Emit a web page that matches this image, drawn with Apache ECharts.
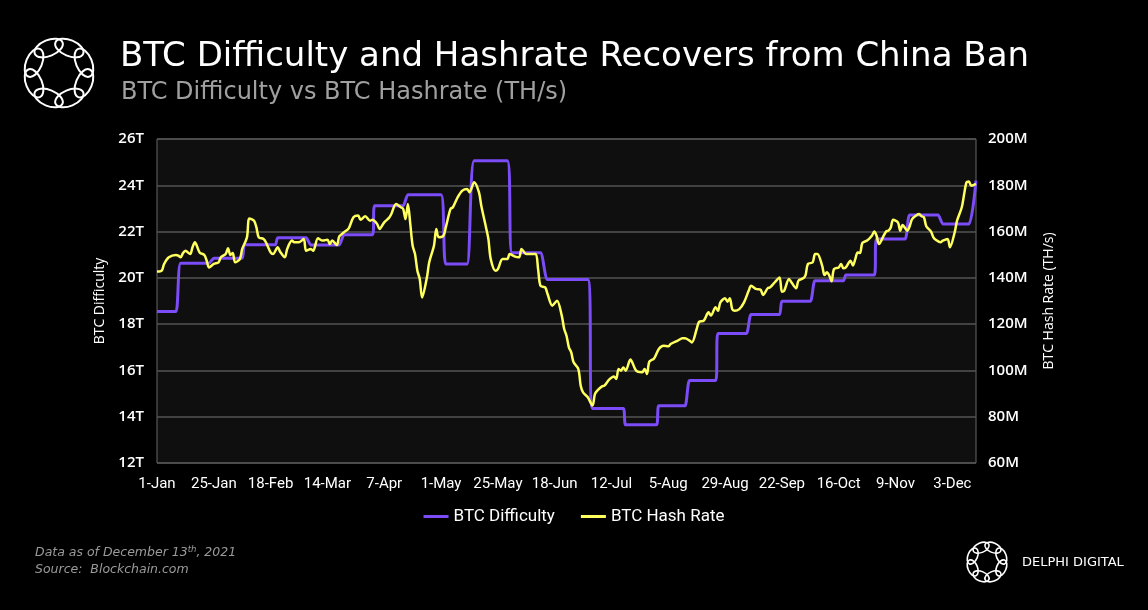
<!DOCTYPE html>
<html>
<head>
<meta charset="utf-8">
<script src="https://cdn.jsdelivr.net/npm/echarts@6/dist/echarts.min.js"></script>
<style>
  html, body { margin: 0; padding: 0; background: #000; }
  #chart { width: 1148px; height: 610px; }
</style>
</head>
<body>
<div id="chart"></div>
<script>
// x labels, one every 24 days starting 1-Jan (day index 0)
const tickLabels = ['1-Jan', '25-Jan', '18-Feb', '14-Mar', '7-Apr', '1-May', '25-May', '18-Jun',
    '12-Jul', '5-Aug', '29-Aug', '22-Sep', '16-Oct', '9-Nov', '3-Dec'];

// BTC difficulty (T), [day index, value] at each adjustment step
const difficulty = [
    [0, 18.55], [8, 18.55], [10, 20.63], [22, 20.63], [24, 20.85], [36, 20.85], [37, 21.43],
    [50, 21.43], [51, 21.73], [63, 21.73], [65, 21.42], [77, 21.42], [79, 21.86], [91, 21.86],
    [92, 23.12], [104, 23.12], [106, 23.59], [120, 23.59], [122, 20.6], [131, 20.6], [134, 25.06],
    [148, 25.06], [150, 21.08], [162, 21.08], [165, 19.93], [182, 19.93], [184, 14.36], [197, 14.36],
    [198, 13.65], [211, 13.65], [212, 14.47], [223, 14.47], [225, 15.56], [236, 15.56], [237, 17.6],
    [249, 17.6], [251, 18.42], [263, 18.42], [264, 18.99], [276, 18.99], [278, 19.88], [290, 19.88],
    [291, 20.12], [303, 20.12], [304, 21.68], [316, 21.68], [318, 22.72], [330, 22.72], [332, 22.33],
    [343, 22.33], [346, 24.2]
];

// BTC hash rate (M TH/s), [day index, value]
const hashRate = [
    [0, 142.7], [2, 143.1], [3, 146], [5, 148.9], [8, 149.9], [9, 149.6], [10, 148.9], [11, 150.7],
    [12, 151.7], [14, 150.3], [15, 153.2], [16, 155.4], [18, 151], [20, 149.9], [21, 147.4], [22, 144.5],
    [24, 146], [26, 146.7], [27, 148.9], [29, 150.3], [30, 152.8], [31, 149.9], [32, 150.7], [33, 146.7],
    [35, 148.1], [36, 152.5], [38, 157.5], [39, 165.7], [41, 164.7], [42, 161.8], [43, 157.5], [45, 156.8],
    [46, 155.4], [48, 151], [49, 150.3], [51, 153.2], [52, 151.3], [54, 148.9], [55, 152.5], [57, 156.1],
    [58, 155.4], [60, 155.4], [62, 156.8], [63, 151.7], [65, 152.5], [66, 151.7], [68, 157.1], [70, 156.1],
    [72, 156.5], [73, 154.6], [74, 156.1], [76, 154.2], [77, 157.9], [79, 159.7], [81, 161.4], [83, 166.2],
    [85, 166.9], [86, 165.1], [88, 166.6], [90, 164.7], [91, 165.1], [93, 163.3], [94, 161.1], [96, 164],
    [98, 165.9], [99, 167.6], [101, 171.9], [103, 170.5], [104, 169.8], [105, 165.4], [106, 171.9],
    [107, 163.3], [108, 153.9], [109, 150.3], [110, 143.1], [111, 139.5], [112, 131.5], [114, 140],
    [115, 146.7], [117, 153.9], [118, 161.1], [119, 157.5], [121, 158.2], [122, 161.8], [124, 169.8],
    [125, 170.5], [127, 174.8], [129, 177.7], [131, 178.4], [132, 177], [134, 181.3], [136, 177],
    [137, 171.2], [139, 161.8], [140, 156.8], [141, 148.1], [143, 143.1], [144, 143.8], [146, 148.1],
    [148, 148.1], [149, 150.3], [151, 149.3], [153, 148.9], [154, 152.5], [156, 150.3], [158, 150.3],
    [160, 150.3], [161, 143.8], [162, 136.6], [164, 135.9], [165, 133], [167, 128], [169, 130.1],
    [171, 123.7], [172, 118], [173, 115], [174, 110], [175, 107.8], [176, 103.5], [178, 100.6], [179, 93.4],
    [180, 90.5], [182, 88.4], [184, 84.8], [185, 89.8], [186, 91.3], [188, 93.1], [189, 93.4], [191, 96],
    [193, 97.4], [194, 96.3], [195, 100.6], [196, 99.9], [197, 101.3], [198, 99.9], [200, 104.7],
    [202, 100.6], [203, 99.5], [205, 99.2], [206, 100.6], [207, 98.5], [208, 103.8], [210, 105.2],
    [212, 109.3], [214, 110.7], [216, 110.4], [217, 111.4], [220, 112.9], [222, 113.9], [223, 113.9],
    [225, 112.9], [226, 112.1], [228, 117.9], [229, 121], [231, 121.5], [233, 125.1], [234, 123.7],
    [236, 127.3], [237, 125.8], [238, 129.4], [240, 131.2], [241, 129.7], [242, 131.2], [243, 126.5],
    [244, 125.8], [246, 126.5], [248, 129.4], [250, 134.5], [251, 136.6], [253, 135.2], [255, 134.9],
    [256, 132.6], [258, 135.5], [259, 135.9], [261, 138.1], [263, 140.2], [264, 134], [265, 134.5],
    [267, 139.5], [268, 138.1], [270, 135.5], [271, 138.8], [273, 139.8], [274, 141.2], [275, 146],
    [277, 146.7], [278, 150.3], [279, 150.3], [281, 145.3], [282, 141.2], [283, 142.4], [284, 141],
    [285, 138.5], [286, 143.8], [288, 144.5], [289, 146], [290, 144.1], [291, 144.5], [293, 147.4],
    [294, 145.3], [295, 148.1], [296, 151], [297, 150.7], [298, 155.1], [300, 156.1], [302, 158.2],
    [303, 160], [304, 158.2], [305, 154.6], [307, 158.2], [308, 160], [309, 160.4], [310, 161.8],
    [311, 165.1], [313, 164], [314, 160.4], [315, 162.8], [317, 160.4], [318, 162.3], [319, 165.4],
    [321, 167.2], [322, 167.6], [323, 166.6], [324, 166.2], [325, 162.3], [327, 160], [328, 157.5],
    [329, 156.5], [331, 155.4], [332, 156.1], [334, 156.8], [335, 153.2], [337, 159.7], [338, 164.7],
    [340, 170.5], [341, 176.2], [342, 181.3], [343, 181.6], [344, 179.8], [346, 180.6]
];

const lastDay = 346;
const purple = '#7B4CF7';
const yellow = '#FFFF5E';
const labelFont = "'Liberation Sans Narrow', 'Roboto', sans-serif";
const axisFont = "'Open Sans', sans-serif";

// logo: ring of overlapping loops, each an ellipse laid along the ring
function logo(cx, cy, ringR, rx, ry, width) {
    const parts = [];
    for (let i = 0; i < 8; i++) {
        const a = i * Math.PI / 4 + Math.PI / 8;
        parts.push({
            type: 'ellipse',
            x: cx + ringR * Math.cos(a), y: cy + ringR * Math.sin(a),
            rotation: -(a + Math.PI / 2),
            shape: { cx: 0, cy: 0, rx: rx, ry: ry },
            style: { fill: 'none', stroke: '#fff', lineWidth: width }
        });
    }
    return parts;
}

const myChart = echarts.init(document.getElementById('chart'));
const option = {
    backgroundColor: '#000',
    animation: false,
    grid: {
        left: 157, right: 172, top: 139, bottom: 147,
        show: true, backgroundColor: '#0f0f0f', borderColor: '#666', borderWidth: 1
    },
    legend: {
        bottom: 80, left: 'center', itemGap: 26,
        icon: 'rect', itemWidth: 25, itemHeight: 3,
        textStyle: { color: '#fff', fontSize: 17, fontFamily: labelFont },
        data: ['BTC Difficulty', 'BTC Hash Rate']
    },
    xAxis: {
        type: 'value', min: 0, max: lastDay, interval: 24,
        splitLine: { show: false },
        axisLine: { show: false }, axisTick: { show: false },
        axisLabel: {
            color: '#fff', fontSize: 15, fontFamily: labelFont, margin: 14,
            showMaxLabel: false,
            formatter: function (v) { return v % 24 === 0 ? (tickLabels[v / 24] || '') : ''; }
        }
    },
    yAxis: [{
        type: 'value', min: 12, max: 26, interval: 2,
        name: 'BTC Difficulty', nameLocation: 'middle', nameGap: 48,
        nameTextStyle: { color: '#fff', fontSize: 14, fontFamily: axisFont },
        axisLine: { show: false }, axisTick: { show: false },
        splitLine: { lineStyle: { color: '#555', width: 1.5 } },
        axisLabel: { color: '#fff', fontSize: 15, fontWeight: 600, fontFamily: axisFont, margin: 13,
            formatter: function (v) { return v + 'T'; } }
    }, {
        type: 'value', min: 60, max: 200, interval: 20,
        name: 'BTC Hash Rate (TH/s)', nameLocation: 'middle', nameGap: 66,
        nameTextStyle: { color: '#fff', fontSize: 14, fontFamily: axisFont },
        axisLine: { show: false }, axisTick: { show: false },
        splitLine: { show: false },
        axisLabel: { color: '#fff', fontSize: 15, fontWeight: 600, fontFamily: axisFont, margin: 12,
            formatter: function (v) { return v + 'M'; } }
    }],
    series: [{
        name: 'BTC Difficulty', type: 'line', yAxisIndex: 0,
        data: difficulty, showSymbol: false, smooth: 0.15,
        lineStyle: { color: purple, width: 3 }, itemStyle: { color: purple }
    }, {
        name: 'BTC Hash Rate', type: 'line', yAxisIndex: 1,
        data: hashRate, showSymbol: false, smooth: 0.3,
        lineStyle: { color: yellow, width: 2.5 }, itemStyle: { color: yellow }
    }],
    graphic: [
        ...logo(59, 73, 27, 15, 8, 2),
        ...logo(987, 562, 15.5, 8.5, 4.8, 1.6),
        {
            type: 'text', left: 120, top: 40,
            style: { text: 'BTC Difficulty and Hashrate Recovers from China Ban', fill: '#fff',
                font: "34px 'DejaVu Sans', sans-serif" }
        },
        {
            type: 'text', left: 121, top: 81,
            style: { text: 'BTC Difficulty vs BTC Hashrate (TH/s)', fill: '#a0a0a0',
                font: "24px 'DejaVu Sans', sans-serif" }
        },
        {
            type: 'text', left: 35, top: 545,
            style: {
                text: '{a|Data as of December 13}{s|th}{a|, 2021}\n{a|Source:  Blockchain.com}',
                rich: {
                    a: { fill: '#9a9a9a', font: "italic 12.5px 'DejaVu Sans', sans-serif", lineHeight: 17 },
                    s: { fill: '#9a9a9a', font: "italic 8.5px 'DejaVu Sans', sans-serif", padding: [0, 0, 7, 0], lineHeight: 17 }
                }
            }
        },
        {
            type: 'text', left: 1022, top: 556,
            style: { text: 'DELPHI DIGITAL', fill: '#fff', font: "13px 'DejaVu Sans', sans-serif" }
        }
    ]
};
myChart.setOption(option);
window.addEventListener('resize', function () {
    myChart.resize();
});
</script>
</body>
</html>
